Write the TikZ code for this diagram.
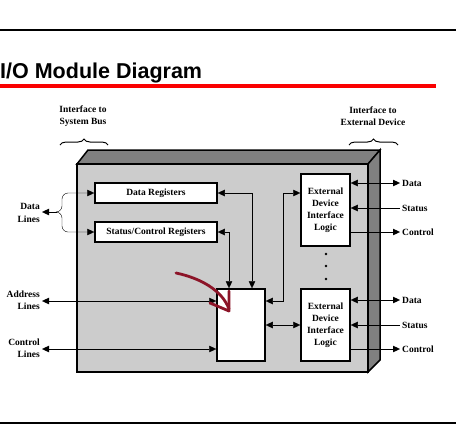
\documentclass[tikz,border=0pt]{standalone}
\usepackage{fontspec}
\setmainfont{Liberation Serif}
\newfontfamily\titlefont{Liberation Sans}
\usetikzlibrary{arrows.meta,calc,positioning,decorations.pathreplacing}
\definecolor{inkred}{RGB}{140,20,40}
\definecolor{titlered}{RGB}{250,0,0}
\tikzset{
    x=1pt,y=-1pt,line width=1pt,
    tip/.tip={Triangle[length=7pt,width=6.5pt]},
    link/.style={-tip},
    both/.style={tip-tip},
    block/.style={draw,fill=white,line width=1.5pt,inner sep=0pt,align=center,
        font=\bfseries\fontsize{9.5}{12}\selectfont},
    lbl/.style={inner sep=2pt,font=\bfseries\fontsize{9.5}{12.5}\selectfont},
    brc/.style={decorate,decoration={brace,amplitude=6pt},line width=1pt}
}
\begin{document}
\begin{tikzpicture}
    \useasboundingbox (0,0) rectangle (456,440);
    % page rules and title
    \draw[line width=2pt] (0,30) -- (456,30);
    \node[anchor=base west,inner sep=0pt,font=\titlefont\bfseries\fontsize{21.5}{21.5}\selectfont] (title) at (0,78) {I/O Module Diagram};
    \draw[titlered,line width=4pt] (0,86) -- (436,86);
    \draw[line width=1.5pt] (0,423) -- (456,423);

    % module box
    \draw[fill=gray,line width=1.5pt] (77,164) -- (88,150) -- (380,150) -- (368,164) -- cycle;
    \draw[fill=gray,line width=1.5pt] (368,164) -- (380,150) -- (380,360) -- (368,372) -- cycle;
    \draw[fill=gray!40,line width=1.5pt] (77,164) rectangle (368,372);

    \node[lbl,align=center] (ifsys) at (83,116) {Interface to\\System Bus};
    \node[lbl,align=center] (ifext) at (373,116) {Interface to\\External Device};
    \draw[brc] (60,145) -- (108,145);
    \draw[brc] (349,145) -- (398,145);

    \node[block,minimum width=122pt,minimum height=20pt] (dreg) at (156,193) {Data Registers};
    \node[block,minimum width=122pt,minimum height=20pt] (sreg) at (156,232) {Status/Control Registers};
    \node[block,minimum width=48pt,minimum height=72pt] (core) at (241,325) {};
    \node[block,minimum width=49pt,minimum height=72pt] (ext1) at (325.5,210) {External\\Device\\Interface\\Logic};
    \node[block,minimum width=49pt,minimum height=72pt] (ext2) at (325.5,325) {External\\Device\\Interface\\Logic};
    \foreach \y in {254,266,279}
        \fill (326,\y) circle (1.3pt);

    % system bus side
    \node[lbl,align=right,anchor=east] (dlines) at (42,213) {Data\\Lines};
    \node[lbl,align=right,anchor=east] (alines) at (42,300) {Address\\Lines};
    \node[lbl,align=right,anchor=east] (clines) at (42,348) {Control\\Lines};
    \coordinate (fork) at (57,212);
    \draw[link] (fork) -- (dlines.east |- fork);
    \draw[link,rounded corners=6pt] (fork) -- (62,212) -- (62,193) -- (dreg.west);
    \draw[link,rounded corners=6pt] (fork) -- (62,212) -- (62,232) -- (sreg.west);
    \draw[both] (alines.east |- 0,301) -- (core.west |- 0,301);
    \draw[both] (clines.east |- 0,349) -- (core.west |- 0,349);

    % internal paths
    \draw[both] (dreg.east) -| (core.north -| 252,0);
    \draw[both] (sreg.east) -| (core.north -| 229,0);
    \draw[both] (core.east |- 0,301) -| (283,193) -- (ext1.west |- 0,193);
    \draw[both] (core.east) -- (ext2.west);

    % external device side
    \node[lbl,anchor=west] (data1) at (400,183) {Data};
    \node[lbl,anchor=west] (stat1) at (400,208) {Status};
    \node[lbl,anchor=west] (ctrl1) at (400,232) {Control};
    \node[lbl,anchor=west] (data2) at (400,300) {Data};
    \node[lbl,anchor=west] (stat2) at (400,325) {Status};
    \node[lbl,anchor=west] (ctrl2) at (400,349) {Control};
    \draw[both] (ext1.east |- data1) -- (data1.west);
    \draw[link] (stat1.west) -- (ext1.east |- stat1);
    \draw[link] (ext1.east |- ctrl1) -- (ctrl1.west);
    \draw[both] (ext2.east |- data2) -- (data2.west);
    \draw[link] (stat2.west) -- (ext2.east |- stat2);
    \draw[link] (ext2.east |- ctrl2) -- (ctrl2.west);

    % hand-drawn mark
    \draw[inkred,line width=2.8pt,line cap=round,line join=round]
        (176,273) .. controls (200,278) and (222,290) .. (229,309);
    \draw[inkred,line width=2.8pt,line cap=round,line join=round]
        (229,291) -- (229,311) -- (210,303);
\end{tikzpicture}
\end{document}
